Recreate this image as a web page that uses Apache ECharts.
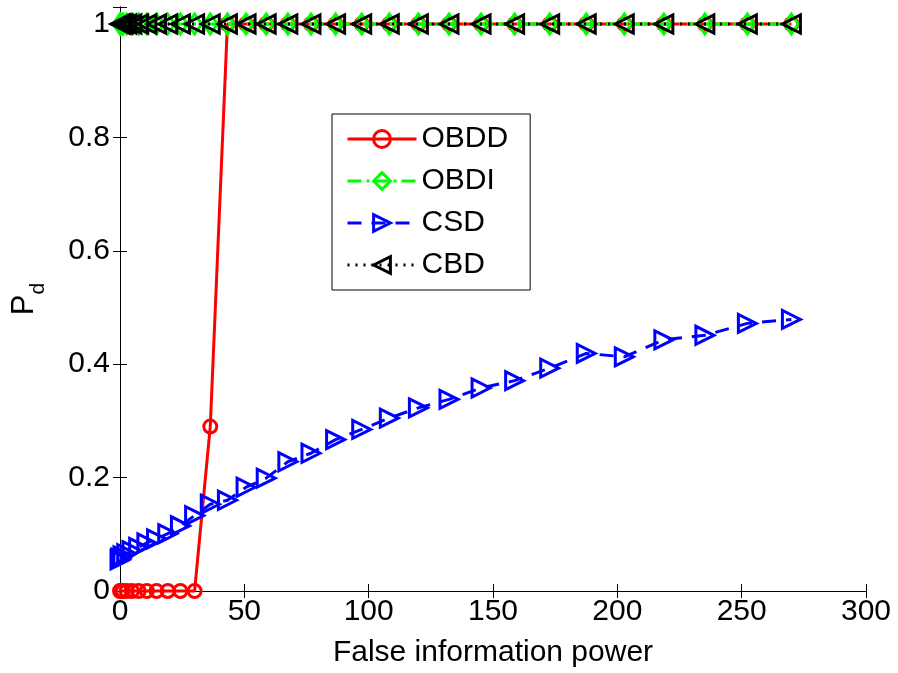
<!DOCTYPE html>
<html>
<head>
<meta charset="utf-8">
<script src="https://cdn.jsdelivr.net/npm/echarts@6/dist/echarts.min.js"></script>
<style>
html,body{margin:0;padding:0;background:#fff;}
#chart{width:898px;height:673px;}
</style>
</head>
<body>
<div id="chart"></div>
<script>
// False information power (x values)
var xValues = [0, 0.3, 1.2, 2.7, 4.8, 7.5, 10.8, 14.7, 19.2, 24.3, 30, 36.3, 43.2, 50.7, 58.8, 67.5, 76.8, 86.7, 97.2, 108.3, 120, 132.3, 145.2, 158.7, 172.8, 187.5, 202.8, 218.7, 235.2, 252.3, 270];
var obddValues = [0, 0, 0, 0, 0, 0, 0, 0, 0, 0, 0, 0.29, 1, 1, 1, 1, 1, 1, 1, 1, 1, 1, 1, 1, 1, 1, 1, 1, 1, 1, 1];
var obdiValues = [1, 1, 1, 1, 1, 1, 1, 1, 1, 1, 1, 1, 1, 1, 1, 1, 1, 1, 1, 1, 1, 1, 1, 1, 1, 1, 1, 1, 1, 1, 1];
var csdValues = [0.055, 0.058, 0.062, 0.066, 0.071, 0.077, 0.085, 0.092, 0.101, 0.115, 0.133, 0.153, 0.160, 0.183, 0.199, 0.228, 0.243, 0.267, 0.285, 0.305, 0.323, 0.338, 0.358, 0.371, 0.393, 0.419, 0.413, 0.443, 0.451, 0.472, 0.479];
var cbdValues = [1, 1, 1, 1, 1, 1, 1, 1, 1, 1, 1, 1, 1, 1, 1, 1, 1, 1, 1, 1, 1, 1, 1, 1, 1, 1, 1, 1, 1, 1, 1];
var seriesNames = ['OBDD', 'OBDI', 'CSD', 'CBD'];
var xTicks = [0, 50, 100, 150, 200, 250, 300];
var yTicks = [0, 0.2, 0.4, 0.6, 0.8, 1];
var xLabel = 'False information power';

function pairs(ys) { return xValues.map(function (x, i) { return [x, ys[i]]; }); }

var FONT = 'Liberation Sans';
var FS = 30;

function isYTick(v) {
  for (var i = 0; i < yTicks.length; i++) if (Math.abs(v - yTicks[i]) < 1e-9) return true;
  return false;
}

var chart = echarts.init(document.getElementById('chart'), null, {renderer: 'canvas'});
var axisLineStyle = {lineStyle: {color: '#000', width: 1}};
var option = {
  animation: false,
  backgroundColor: '#fff',
  textStyle: {fontFamily: FONT},
  grid: {left: 120, right: 32, top: 7, bottom: 81, containLabel: false},
  legend: {
    orient: 'vertical',
    left: 332,
    top: 114,
    data: seriesNames,
    backgroundColor: '#fff',
    borderColor: '#000',
    borderWidth: 1,
    borderRadius: 0,
    padding: [10, 22, 10, 14],
    itemWidth: 69,
    itemHeight: 21,
    itemGap: 12,
    symbolRotate: 'inherit',
    lineStyle: {width: 3},
    itemStyle: {borderWidth: 3},
    textStyle: {fontFamily: FONT, fontSize: FS, color: '#000', lineHeight: 30}
  },
  xAxis: [{
    type: 'value', min: 0, max: 300, interval: 50, position: 'bottom',
    axisLine: axisLineStyle,
    axisTick: {inside: true, length: 7, lineStyle: {color: '#000'}},
    axisLabel: {color: '#000', fontSize: FS, fontFamily: FONT, margin: 6},
    splitLine: {show: false},
    name: xLabel, nameLocation: 'middle', nameGap: 47,
    nameTextStyle: {color: '#000', fontSize: FS, fontFamily: FONT}
  }, {
    type: 'value', min: 0, max: 300, interval: 50, position: 'top',
    axisLine: axisLineStyle,
    axisTick: {inside: true, length: 7, lineStyle: {color: '#000'}},
    axisLabel: {show: false}, splitLine: {show: false}
  }],
  yAxis: [{
    type: 'value', min: 0, max: 1.03, interval: 0.2, position: 'left',
    axisLine: axisLineStyle,
    axisTick: {inside: true, length: 7, lineStyle: {color: '#000'}},
    axisLabel: {
      color: '#000', fontSize: FS, fontFamily: FONT, margin: 10,
      formatter: function (v) { return isYTick(v) ? String(+v.toFixed(1)) : ''; }
    },
    splitLine: {show: false},
    name: '{p|P}{d|d}', nameLocation: 'middle', nameGap: 71, nameRotate: 90,
    nameTextStyle: {
      color: '#000', fontFamily: FONT,
      rich: {
        p: {fontSize: 31, lineHeight: 40, verticalAlign: 'top', fontFamily: FONT, color: '#000'},
        d: {fontSize: 21, lineHeight: 21, verticalAlign: 'bottom', fontFamily: FONT, color: '#000'}
      }
    }
  }, {
    type: 'value', min: 0, max: 1.03, interval: 0.2, position: 'right',
    axisLine: axisLineStyle,
    axisTick: {inside: true, length: 7, lineStyle: {color: '#000'}},
    axisLabel: {show: false}, splitLine: {show: false}
  }],
  series: [
    {
      name: 'OBDD', type: 'line', data: pairs(obddValues), clip: false,
      symbol: 'circle', symbolSize: 13, showAllSymbol: true,
      lineStyle: {color: '#ff0000', width: 3, type: 'solid'},
      itemStyle: {color: 'rgba(255,255,255,0)', borderColor: '#ff0000', borderWidth: 3}
    },
    {
      name: 'OBDI', type: 'line', data: pairs(obdiValues), clip: false,
      symbol: 'diamond', symbolSize: [14, 20], showAllSymbol: true,
      lineStyle: {color: '#00ff00', width: 3, type: [14, 5, 3, 5]},
      itemStyle: {color: 'rgba(255,255,255,0)', borderColor: '#00ff00', borderWidth: 3}
    },
    {
      name: 'CSD', type: 'line', data: pairs(csdValues), clip: false,
      symbol: 'triangle', symbolSize: 18, symbolRotate: -90, showAllSymbol: true,
      lineStyle: {color: '#0000ff', width: 3, type: [14, 10]},
      itemStyle: {color: 'rgba(255,255,255,0)', borderColor: '#0000ff', borderWidth: 3}
    },
    {
      name: 'CBD', type: 'line', data: pairs(cbdValues), clip: false,
      symbol: 'triangle', symbolSize: 18, symbolRotate: 90, showAllSymbol: true,
      lineStyle: {color: '#000000', width: 3, type: [2, 6]},
      itemStyle: {color: 'rgba(255,255,255,0)', borderColor: '#000000', borderWidth: 3}
    }
  ]
};
chart.setOption(option);
</script>
</body>
</html>
